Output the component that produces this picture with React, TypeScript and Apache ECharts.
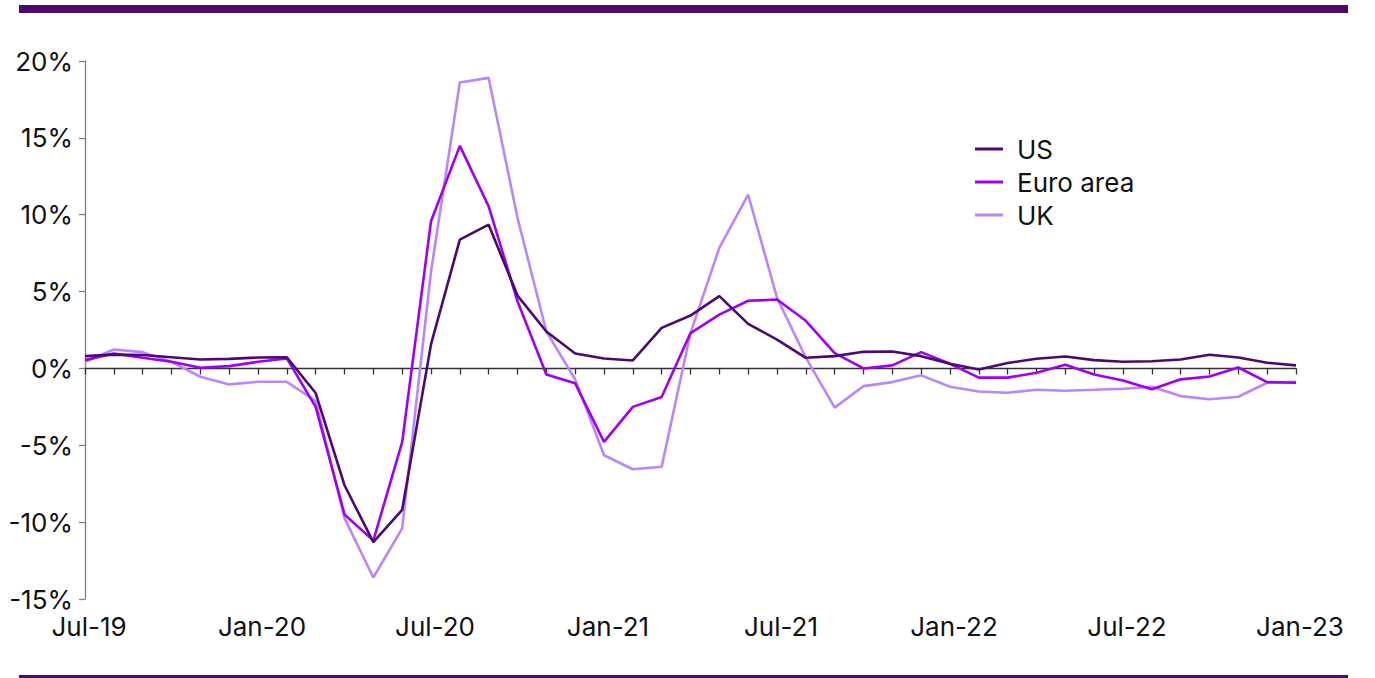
import React, { useEffect, useRef } from "react";
import * as echarts from "echarts";

const categories = [
  "Jul-19", "Aug-19", "Sep-19", "Oct-19", "Nov-19", "Dec-19",
  "Jan-20", "Feb-20", "Mar-20", "Apr-20", "May-20", "Jun-20",
  "Jul-20", "Aug-20", "Sep-20", "Oct-20", "Nov-20", "Dec-20",
  "Jan-21", "Feb-21", "Mar-21", "Apr-21", "May-21", "Jun-21",
  "Jul-21", "Aug-21", "Sep-21", "Oct-21", "Nov-21", "Dec-21",
  "Jan-22", "Feb-22", "Mar-22", "Apr-22", "May-22", "Jun-22",
  "Jul-22", "Aug-22", "Sep-22", "Oct-22", "Nov-22", "Dec-22",
  "Jan-23",
];

const usValues = [
  0.8, 0.9, 0.87, 0.73, 0.58, 0.62, 0.71, 0.73, -1.6, -7.6, -11.3, -9.2,
  1.56, 8.38, 9.35, 4.74, 2.4, 0.97, 0.65, 0.52, 2.64, 3.44, 4.7, 2.9,
  1.88, 0.69, 0.8, 1.08, 1.1, 0.8, 0.3, -0.07, 0.35, 0.63, 0.78, 0.54,
  0.43, 0.47, 0.58, 0.89, 0.71, 0.37, 0.2,
];

const euroValues = [
  0.54, 0.97, 0.69, 0.43, 0.04, 0.15, 0.43, 0.65, -2.5, -9.5, -11.2, -4.8,
  9.57, 14.48, 10.54, 4.37, -0.39, -0.97, -4.78, -2.5, -1.86, 2.3, 3.5, 4.4,
  4.48, 3.1, 1.0, 0.0, 0.2, 1.06, 0.3, -0.6, -0.6, -0.28, 0.24, -0.39,
  -0.78, -1.36, -0.71, -0.52, 0.06, -0.89, -0.93,
];

const ukValues = [
  0.43, 1.23, 1.06, 0.43, -0.54, -1.04, -0.87, -0.87, -2.12, -9.74, -13.6, -10.4,
  6.3, 18.6, 18.9, 9.8, 2.4, -0.71, -5.65, -6.56, -6.4, 2.3, 7.84, 11.3,
  4.6, 0.7, -2.55, -1.15, -0.89, -0.45, -1.19, -1.5, -1.58, -1.39, -1.45, -1.39,
  -1.32, -1.19, -1.8, -2.0, -1.84, -0.93, -0.87,
];

const seriesNames = ["US", "Euro area", "UK"];
const seriesColors = ["#4b0a70", "#9f00f5", "#bb85fc"];

const FONT = "Inter, 'Liberation Sans', Arial, sans-serif";

export default function App() {
  const ref = useRef<HTMLDivElement>(null);

  useEffect(() => {
    if (!ref.current) return;
    const chart = echarts.init(ref.current, undefined, { renderer: "svg" });
    const data = [usValues, euroValues, ukValues];
    chart.setOption({
      animation: false,
      backgroundColor: "#ffffff",
      textStyle: { fontFamily: FONT },
      grid: { left: 85, right: 79, top: 61, bottom: 79, containLabel: false },
      legend: {
        orient: "vertical",
        left: 970,
        top: 129,
        icon: "rect",
        itemWidth: 28,
        itemHeight: 3,
        itemGap: 3,
        data: seriesNames,
        textStyle: {
          fontFamily: FONT,
          fontSize: 26,
          color: "#111111",
          lineHeight: 30,
          padding: [0, 0, 0, 9],
        },
      },
      xAxis: [
        {
          type: "category",
          data: categories,
          boundaryGap: false,
          axisLine: { onZero: true, lineStyle: { color: "#333333", width: 1.3 } },
          axisTick: { show: true, interval: 0, length: 6, lineStyle: { color: "#333333", width: 1.3 } },
          axisLabel: { show: false },
          splitLine: { show: false },
        },
        {
          type: "category",
          data: categories,
          boundaryGap: false,
          position: "bottom",
          axisLine: { show: false, onZero: false },
          axisTick: { show: false },
          axisLabel: {
            show: true,
            interval: 5,
            margin: 14,
            fontSize: 26,
            color: "#111111",
            fontFamily: FONT,
            padding: [0, 0, 0, 8],
          },
          splitLine: { show: false },
        },
      ],
      yAxis: {
        type: "value",
        min: -15,
        max: 20,
        interval: 5,
        axisLine: { show: true, lineStyle: { color: "#808080", width: 1.3 } },
        axisTick: { show: true, length: 6, lineStyle: { color: "#808080", width: 1.3 } },
        axisLabel: {
          formatter: (v: number) => `${v}%`,
          fontSize: 26,
          color: "#111111",
          margin: 12,
          fontFamily: FONT,
        },
        splitLine: { show: false },
      },
      graphic: [
        { type: "rect", shape: { x: 19, y: 5, width: 1329, height: 8 }, style: { fill: "#4b0a70" } },
        { type: "rect", shape: { x: 19, y: 675, width: 1329, height: 4 }, style: { fill: "#4b0a70" } },
      ],
      series: seriesNames.map((name, i) => ({
        name,
        type: "line",
        xAxisIndex: 0,
        data: data[i],
        showSymbol: false,
        symbol: "none",
        lineStyle: { color: seriesColors[i], width: 2.6 },
        itemStyle: { color: seriesColors[i] },
        z: 3 - i,
      })),
    });
    return () => chart.dispose();
  }, []);

  return (
    <div
      ref={ref}
      style={{ position: "fixed", left: 0, top: 0, width: 1375, height: 678 }}
    />
  );
}
